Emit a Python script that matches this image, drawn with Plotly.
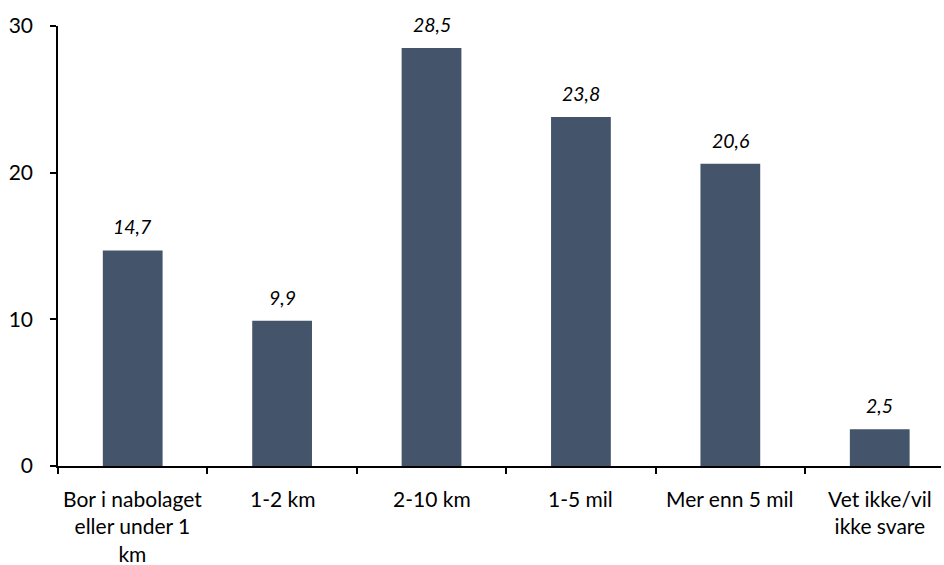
import plotly.graph_objects as go

categories = [
    "Bor i nabolaget<br>eller under 1<br>km",
    "1-2 km",
    "2-10 km",
    "1-5 mil",
    "Mer enn 5 mil",
    "Vet ikke/vil<br>ikke svare",
]
values = [14.7, 9.9, 28.5, 23.8, 20.6, 2.5]
y_ticks = [0, 10, 20, 30]

BAR_COLOR = "#44546A"
FONT = "Lato"

fig = go.Figure(
    go.Bar(
        x=list(range(len(categories))),
        y=values,
        width=0.4,
        marker=dict(color=BAR_COLOR, line=dict(width=0)),
        hoverinfo="skip",
    )
)

# value labels above each bar, decimal comma
for i, v in enumerate(values):
    fig.add_annotation(
        x=i, y=v, text=f"{v:.1f}".replace(".", ","),
        showarrow=False, yanchor="bottom", yshift=10,
        font=dict(family=FONT, size=19.5, color="black", style="italic"),
    )

# category ticks sit on the boundaries between bars
boundary_ticks = [i - 0.5 for i in range(len(categories) + 1)]

fig.update_layout(
    width=944, height=565,
    margin=dict(l=58, r=3, t=26, b=99),
    paper_bgcolor="white", plot_bgcolor="white",
    showlegend=False,
    font=dict(family=FONT, size=21, color="black"),
    xaxis=dict(
        type="linear",
        tickmode="array",
        tickvals=boundary_ticks,
        ticktext=[""] * len(boundary_ticks),
        range=[-0.5, 5.41],
        showline=True, linecolor="black", linewidth=1.5,
        ticks="outside", ticklen=6, tickcolor="black", tickwidth=1.5,
        showgrid=False, zeroline=False,
    ),
    yaxis=dict(
        range=[0, 30],
        tickvals=y_ticks,
        showline=True, linecolor="black", linewidth=1.5,
        ticks="outside", ticklen=6, tickcolor="black", tickwidth=1.5,
        showgrid=False, zeroline=False,
        ticklabelstandoff=13,
    ),
)

# category names centred under each bar
for i, c in enumerate(categories):
    fig.add_annotation(
        x=i, y=0, xref="x", yref="y", text=c, showarrow=False,
        yanchor="top", yshift=-18,
        font=dict(family=FONT, size=21, color="black"),
    )

fig.write_html("out.html")
